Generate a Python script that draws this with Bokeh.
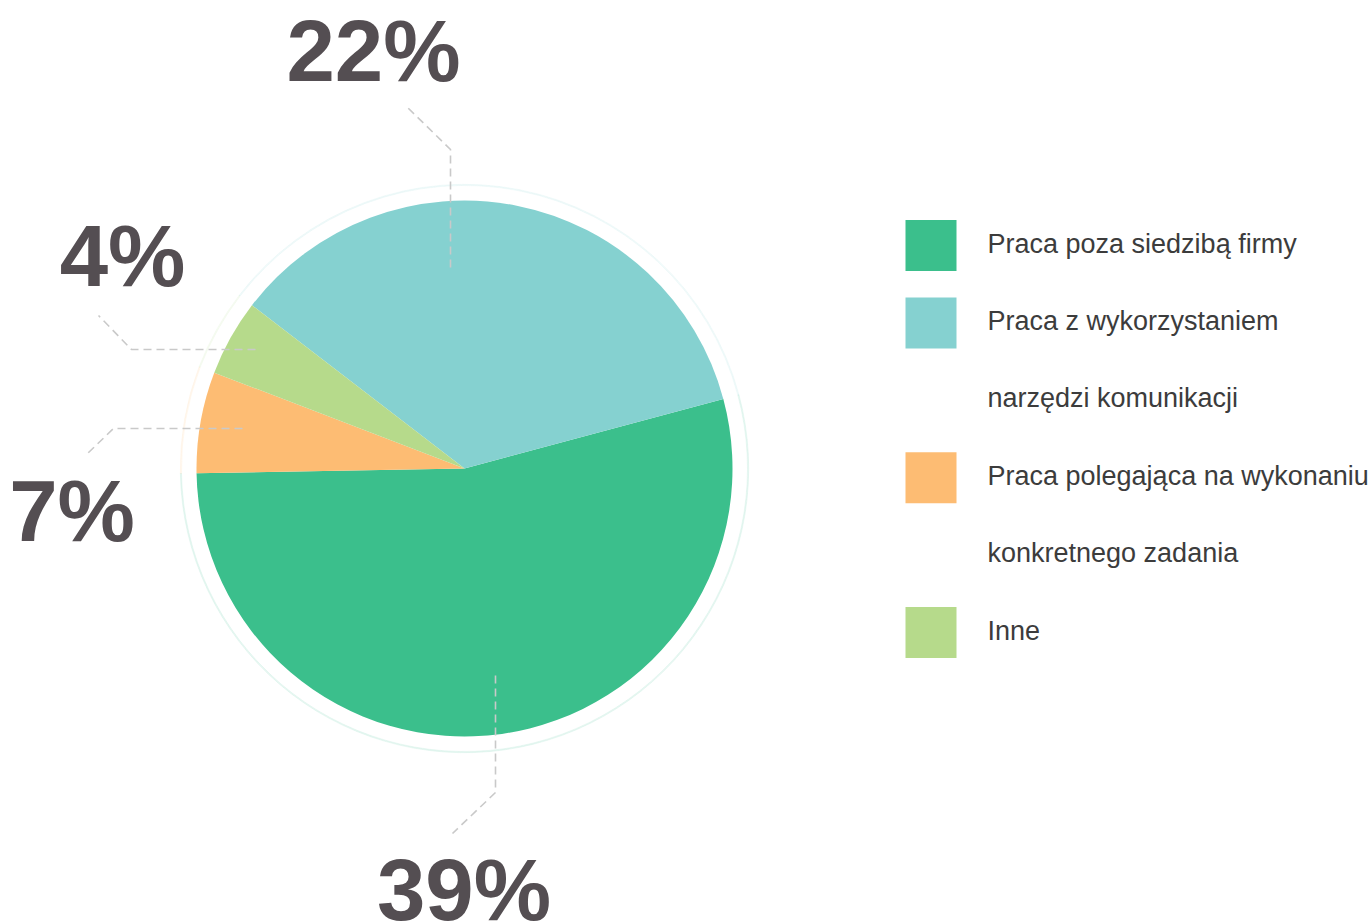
import numpy as np
from bokeh.plotting import figure
from bokeh.models import ColumnDataSource, Range1d
from bokeh.core.properties import value
from bokeh.embed import file_html
from bokeh.resources import INLINE

# ---------------- data ----------------
categories = [
    "Praca poza siedzibą firmy",
    "Praca z wykorzystaniem narzędzi komunikacji",
    "Praca polegająca na wykonaniu konkretnego zadania",
    "Inne",
]
legend_lines = [
    ["Praca poza siedzibą firmy"],
    ["Praca z wykorzystaniem", "narzędzi komunikacji"],
    ["Praca polegająca na wykonaniu", "konkretnego zadania"],
    ["Inne"],
]
shares = [53.9, 35.4, 6.1, 4.6]          # slice sizes as drawn in the picture
labels = ["39%", "22%", "7%", "4%"]       # labels printed next to the slices

# ---------------- styles / layout ----------------
colors = ["#3bbf8c", "#85d1d0", "#fdbc73", "#b6da8b"]
draw_order = [0, 1, 3, 2]                 # anticlockwise order of slices
START_DEG = 181.0
W, H = 1368, 922
OFF = 0
BASE_FIX = 0.37                           # baseline correction (em)


def sx(X):
    return X - OFF


def sy(Y):
    return H + OFF - Y


CX, CY, R = 464, 468, 268
RING_IN, RING_OUT = 283.0, 284.2

leaders = {
    0: [(495, 675), (495, 792), (452, 833)],
    1: [(450, 267), (450, 149), (406, 106)],
    2: [(242, 428), (113, 428), (87, 453)],
    3: [(255, 349), (131, 349), (98, 315)],
}
label_pos = {0: (463.5, 921), 1: (373, 82), 2: (71.5, 542), 3: (122, 287)}

LABEL_COLOR = "#544e52"
TEXT_COLOR = "#3c3c3c"
LABEL_FS = 87
LEG_FS = 27

# ---------------- figure ----------------
p = figure(width=W, height=H, output_backend="svg", toolbar_location=None,
           x_range=Range1d(0, W), y_range=Range1d(0, H), min_border=0)
p.axis.visible = False
p.grid.visible = False
p.outline_line_color = None
p.background_fill_color = "white"
p.border_fill_color = "white"

# slice angles
total = sum(shares)
starts, ends = [0.0] * 4, [0.0] * 4
a = START_DEG
for i in draw_order:
    span = shares[i] / total * 360.0
    starts[i] = a
    ends[i] = a + span
    a += span

src = ColumnDataSource(dict(
    x=[sx(CX)] * 4, y=[sy(CY)] * 4,
    start=starts, end=ends, color=colors, cat=categories,
))

# faint outer ring
p.annular_wedge(x="x", y="y", inner_radius=RING_IN, outer_radius=RING_OUT,
                start_angle="start", end_angle="end", start_angle_units="deg",
                end_angle_units="deg", color="color", alpha=0.09, source=src)

p.wedge(x="x", y="y", radius=R, start_angle="start", end_angle="end",
        start_angle_units="deg", end_angle_units="deg",
        fill_color="color", line_color=None, source=src)

# leader lines
for i in range(4):
    pts = leaders[i]
    p.line([sx(x) for x, _ in pts], [sy(y) for _, y in pts],
           line_color="#c9c9c9", line_width=1.6, line_dash="8 5")

# big percentage labels
p.text(x=[sx(label_pos[i][0]) for i in range(4)],
       y=[sy(label_pos[i][1]) + BASE_FIX * LABEL_FS for i in range(4)],
       text=labels, text_align="center", text_baseline="alphabetic",
       text_font=value("Liberation Sans"), text_font_style="bold",
       text_font_size=f"{LABEL_FS}px", text_color=LABEL_COLOR)

# legend
LX_SQ, SQ, LX_TXT = 930.5, 51, 987
BASE0, STEP = 253, 77.4
line_idx = 0
sq_x, sq_y, tx, ty, tt = [], [], [], [], []
for i, lines in enumerate(legend_lines):
    base = BASE0 + STEP * line_idx
    sq_x.append(sx(LX_SQ))
    sq_y.append(sy(base - 8))
    for ln in lines:
        b = BASE0 + STEP * line_idx
        tx.append(sx(LX_TXT))
        ty.append(sy(b) + BASE_FIX * LEG_FS)
        tt.append(ln)
        line_idx += 1

p.rect(x=sq_x, y=sq_y, width=SQ, height=SQ, fill_color=colors, line_color=None)
p.text(x=tx, y=ty, text=tt, text_align="left", text_baseline="alphabetic",
       text_font=value("Liberation Sans"), text_font_size=f"{LEG_FS}px",
       text_color=TEXT_COLOR)

open("out.html", "w").write(file_html(p, INLINE))
